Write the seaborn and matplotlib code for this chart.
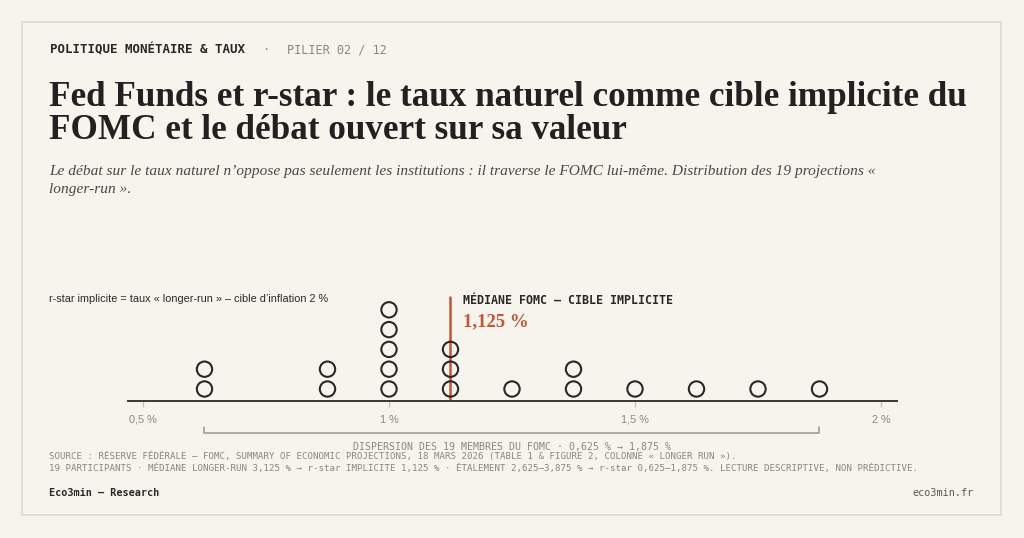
import numpy as np
import pandas as pd
import matplotlib
matplotlib.use("Agg")
import matplotlib.pyplot as plt
import seaborn as sns
from matplotlib.patches import Rectangle

# ---- data ----
projections = [0.625, 0.625, 0.875, 0.875, 1.0, 1.0, 1.0, 1.0, 1.0,
               1.125, 1.125, 1.125, 1.25, 1.375, 1.375, 1.5, 1.625, 1.75, 1.875]
median_value = 1.125
tick_values = [0.5, 1.0, 1.5, 2.0]
tick_labels = ["0,5 %", "1 %", "1,5 %", "2 %"]
range_low, range_high = 0.625, 1.875

kicker = "POLITIQUE MONÉTAIRE & TAUX"
pillar = "PILIER 02 / 12"
title = "Fed Funds et r-star : le taux naturel comme cible implicite du\nFOMC et le débat ouvert sur sa valeur"
subtitle = ("Le débat sur le taux naturel n’oppose pas seulement les institutions : il traverse le FOMC lui-même. "
            "Distribution des 19 projections «\nlonger-run ».")
note = "r-star implicite = taux « longer-run » – cible d’inflation 2 %"
median_label = "MÉDIANE FOMC — CIBLE IMPLICITE"
median_text = "1,125 %"
range_label = "DISPERSION DES 19 MEMBRES DU FOMC · 0,625 % → 1,875 %"
source1 = "SOURCE : RÉSERVE FÉDÉRALE — FOMC, SUMMARY OF ECONOMIC PROJECTIONS, 18 MARS 2026 (TABLE 1 & FIGURE 2, COLONNE « LONGER RUN »)."
source2 = ("19 PARTICIPANTS · MÉDIANE LONGER-RUN 3,125 % → r-star IMPLICITE 1,125 % · "
           "ÉTALEMENT 2,625–3,875 % → r-star 0,625–1,875 %. LECTURE DESCRIPTIVE, NON PRÉDICTIVE.")
brand = "Eco3min — Research"
site = "eco3min.fr"

df = pd.DataFrame({"value": projections})
df["level"] = df.groupby("value").cumcount() + 1

# ---- style ----
BG = "#f6f3ec"
INK = "#2a2826"
RED = "#c0573a"
GREY = "#8a8680"

sns.set_theme(style="white")
plt.rcParams["font.family"] = ["DejaVu Sans"]

W, H = 1024, 538
fig = plt.figure(figsize=(W / 100, H / 100), dpi=100, facecolor=BG)

def fx(px):
    return px / W

def fy(py):
    return 1 - py / H

# card
fig.patches.append(Rectangle((fx(22), fy(515)), fx(1001) - fx(22), fy(22) - fy(515),
                             transform=fig.transFigure, facecolor="#f7f4ee",
                             edgecolor="#dedad0", linewidth=1.2, zorder=-10))

mono = "DejaVu Sans Mono"

fig.text(fx(50), fy(50), kicker, family=mono, fontweight="bold", fontsize=9.0,
         color=INK, va="center", ha="left")
fig.text(fx(266), fy(50), "·", family=mono, fontsize=8.6, color=GREY, va="center", ha="center")
fig.text(fx(287), fy(50), pillar, family=mono, fontsize=8.6, color=GREY, va="center", ha="left")

fig.text(fx(49), fy(139), title, family="Liberation Serif", fontweight="bold", fontsize=25.3,
         color="#222020", va="baseline", ha="left", linespacing=1.0)
fig.text(fx(49), fy(193), subtitle, family="Liberation Serif", style="italic", fontsize=11.1,
         color="#4a4744", va="baseline", ha="left", linespacing=1.5)

# ---- axes ----
x0, x1 = 128, 897
px_per_unit = (881 - 143) / 1.5
xmin = 0.5 - (143 - x0) / px_per_unit
xmax = 2.0 + (x1 - 881) / px_per_unit
row = 19.8
base_py = 401
top_py = 288
ax = fig.add_axes([fx(x0), fy(base_py), fx(x1) - fx(x0), fy(top_py) - fy(base_py)])
ax.set_facecolor("none")
ylow = 1 - (base_py - 389) / row
yhigh = ylow + (base_py - top_py) / row

sns.scatterplot(data=df, x="value", y="level", ax=ax, marker="o", s=122,
                facecolor="none", edgecolor=INK, linewidth=1.5, legend=False, zorder=3)
ax.axvline(median_value, ymin=0, ymax=(base_py - 297) / (base_py - top_py),
           color=RED, linewidth=1.8, zorder=2)

ax.set_xlim(xmin, xmax)
ax.set_ylim(ylow, yhigh)
ax.set_xlabel("")
ax.set_ylabel("")
ax.set_yticks([])
ax.set_xticks(tick_values)
ax.set_xticklabels(tick_labels)
ax.tick_params(axis="x", length=4, width=1, color="#c9c5bc", labelsize=7.8,
               labelcolor=GREY, pad=6, bottom=True)
for lab in ax.get_xticklabels():
    lab.set_family("Liberation Sans")
for s in ["top", "right", "left"]:
    ax.spines[s].set_visible(False)
ax.spines["bottom"].set_color("#3a3835")
ax.spines["bottom"].set_linewidth(1.4)

# median annotations
fig.text(fx(463), fy(301), median_label, family=mono, fontweight="bold", fontsize=8.4,
         color=INK, va="center", ha="left")
fig.text(fx(463), fy(322), median_text, family="Liberation Serif", fontweight="bold",
         fontsize=13.5, color=RED, va="center", ha="left")

# note
fig.text(fx(49), fy(299), note, family="Liberation Sans", fontsize=7.8, color=INK,
         va="center", ha="left")

# range bracket below axis
bax = fig.add_axes([fx(x0), fy(440), fx(x1) - fx(x0), fy(425) - fy(440)])
bax.set_xlim(xmin, xmax)
bax.set_ylim(0, 1)
bax.axis("off")
bx = [range_low, range_low, range_high, range_high]
by = [0.85, 0.5, 0.5, 0.85]
sns.lineplot(x=np.array(bx), y=np.array(by), ax=bax, sort=False, color="#9a968f",
             linewidth=1.1, estimator=None)
fig.text(fx(512), fy(447), range_label, family=mono, fontsize=7.1, color=GREY,
         va="center", ha="center")

fig.text(fx(49), fy(456), source1, family=mono, fontsize=6.6, color=GREY, va="center", ha="left")
fig.text(fx(49), fy(468), source2, family=mono, fontsize=6.55, color=GREY, va="center", ha="left")

fig.text(fx(49), fy(493), brand, family=mono, fontweight="bold", fontsize=7.3, color=INK,
         va="center", ha="left")
fig.text(fx(974), fy(493), site, family=mono, fontsize=7.3, color="#5a5753",
         va="center", ha="right")

fig.savefig("out.png", dpi=100, facecolor=BG)
